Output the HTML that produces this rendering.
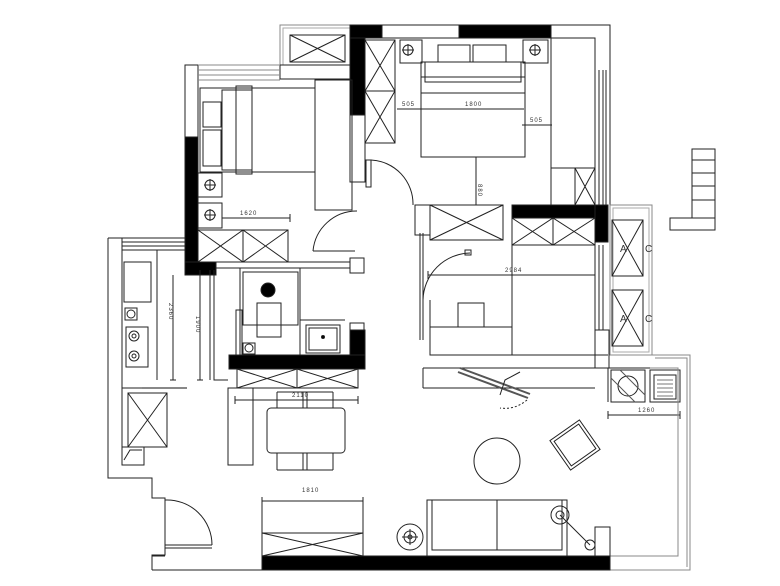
<!DOCTYPE html>
<html><head><style>
html,body{margin:0;padding:0;background:#fff;width:780px;height:586px;overflow:hidden}
svg{display:block}
text{font-family:"Liberation Sans",sans-serif;font-size:6px;fill:#333;letter-spacing:1px}
</style></head><body>
<svg width="780" height="586" viewBox="0 0 780 586" xmlns="http://www.w3.org/2000/svg">
<g fill="none" stroke="#222" stroke-width="1">
<!-- top small balcony -->
<rect x="280" y="25" width="72" height="40" stroke="#888"/>
<rect x="283" y="28" width="69" height="37" stroke="#aaa"/>
<rect x="290" y="35" width="55" height="27"/><path d="M290 35L345 62M345 35L290 62"/>
<rect x="280" y="65" width="72" height="14"/>
<!-- top black walls -->
<rect x="350" y="25" width="32" height="13" fill="#000"/>
<rect x="350" y="38" width="15" height="77" fill="#000"/>
<rect x="365" y="40" width="30" height="103"/><path d="M365 40L395 91L365 143M395 40L365 91L395 143M365 91H395"/>
<rect x="350" y="115" width="15" height="67"/>
<!-- left bedroom -->
<rect x="185" y="65" width="13" height="72"/>
<rect x="185" y="137" width="13" height="128" fill="#000"/>
<rect x="185" y="262" width="31" height="13" fill="#000"/>
<path d="M198 65H280M198 70H280M198 75H280M198 80H280" stroke="#888"/>
<rect x="200" y="88" width="115" height="84"/>
<rect x="203" y="102" width="18" height="25"/><rect x="203" y="130" width="18" height="36"/>
<rect x="222" y="90" width="30" height="80"/><rect x="236" y="86" width="16" height="88"/>
<rect x="315" y="80" width="37" height="130"/>
<rect x="198" y="173" width="24" height="24"/><circle cx="210" cy="185" r="5"/><path d="M204 185H216M210 179V191"/>
<rect x="198" y="203" width="24" height="25"/><circle cx="210" cy="215" r="5"/><path d="M204 215H216M210 209V221"/>
<path d="M222 218H290M290 214V222"/>
<rect x="198" y="230" width="90" height="32"/><path d="M198 230L243 262L288 230M198 262L243 230L288 262M243 230V262"/>
<path d="M216 262H350M216 268H350"/><rect x="350" y="258" width="14" height="15"/>
<path d="M313 251A44 44 0 0 1 357 211" />
<path d="M313 251H355"/>
<!-- right door -->
<rect x="366" y="160" width="5" height="27"/>
<path d="M371 160A44 44 0 0 1 413 205"/>
<!-- master bedroom -->
<path d="M360 25H610V70M382 38H595V70M595 70V210M599 70V210M603 70V210M606 70V210M610 70V210" />
<rect x="459" y="25" width="92" height="13" fill="#000"/>
<rect x="400" y="40" width="22" height="23"/><circle cx="408" cy="50" r="5"/><path d="M402 50H414M408 44V56"/>
<rect x="523" y="40" width="25" height="23"/><circle cx="535" cy="50" r="5"/><path d="M529 50H541M535 44V56"/>
<rect x="421" y="62" width="104" height="95"/>
<rect x="438" y="45" width="32" height="17"/><rect x="473" y="45" width="33" height="17"/>
<rect x="425" y="62" width="96" height="20"/><rect x="421" y="77" width="104" height="16"/>
<path d="M397 109H524M522 125H552M476 157V205"/>
<path d="M551 38V205"/>
<rect x="551" y="168" width="44" height="37"/><rect x="575" y="168" width="20" height="37"/><path d="M575 168L595 205M595 168L575 205"/>
<rect x="512" y="205" width="96" height="13" fill="#000"/>
<rect x="595" y="205" width="13" height="37" fill="#000"/>
<rect x="430" y="205" width="73" height="35"/><path d="M430 205L503 240M503 205L430 240"/>
<rect x="512" y="218" width="83" height="27"/><path d="M512 218L553 245L595 218M512 245L553 218L595 245M553 218V245"/>
<rect x="415" y="205" width="15" height="30"/>
<path d="M428 275H595M428 271V279M595 271V279"/>
<path d="M420 233V340M423 233V340"/>
<path d="M423 300A48 48 0 0 1 470 253"/><rect x="465" y="250" width="6" height="5"/>
<!-- AC balcony -->
<rect x="610" y="205" width="42" height="150" stroke="#888"/>
<rect x="613" y="208" width="36" height="144" stroke="#aaa"/>
<rect x="612" y="220" width="31" height="56"/><path d="M612 220L643 276M643 220L612 276"/>
<rect x="612" y="290" width="31" height="56"/><path d="M612 290L643 346M643 290L612 346"/>
<path d="M595 245V330M599 245V330M603 245V330"/>
<rect x="595" y="330" width="14" height="38"/>
<!-- stairs -->
<rect x="692" y="149" width="23" height="69"/><path d="M692 160H715M692 173H715M692 186H715M692 200H715"/>
<rect x="670" y="218" width="45" height="12"/>
<!-- bedroom 2 lower -->
<rect x="430" y="327" width="82" height="28"/><path d="M512 245V355M430 300V355"/>
<rect x="458" y="303" width="26" height="24"/>
<path d="M423 368H650M423 388H595M423 368V388M595 355H608"/>
<path d="M430 355H595V368"/>
<path d="M458 372L528 398M460 368L530 394" stroke="#555" stroke-width="2"/>
<path d="M520 372L505 380L500 395" />
<path d="M527 400Q515 410 500 408" stroke-dasharray="2 2"/>
<!-- washer & sink -->
<rect x="611" y="370" width="34" height="32"/><circle cx="628" cy="386" r="10"/>
<path d="M611 378L635 402M620 370L645 395" stroke="#555"/>
<rect x="650" y="370" width="30" height="32"/><rect x="654" y="375" width="22" height="24"/>
<path d="M657 380H673M657 384H673M657 388H673M657 392H673M657 396H673" stroke="#777"/>
<path d="M608 415H680M608 411V419M680 411V419"/>
<!-- right living walls -->
<path d="M652 355H690V570H610M655 358H687V567M650 368H678V556H610" stroke="#888"/>
<path d="M608 368V402"/>
<!-- living furniture -->
<circle cx="497" cy="461" r="23"/>
<g transform="rotate(-35 575 445)"><rect x="557" y="427" width="36" height="36"/><rect x="560" y="430" width="30" height="30"/></g>
<rect x="427" y="500" width="140" height="56"/><rect x="432" y="500" width="130" height="50"/><path d="M497 500V550"/>
<circle cx="560" cy="515" r="9"/><circle cx="560" cy="515" r="4"/><path d="M560 515L590 545"/><circle cx="590" cy="545" r="5"/>
<rect x="595" y="527" width="15" height="29"/>
<circle cx="410" cy="537" r="13"/><circle cx="410" cy="537" r="6"/><circle cx="410" cy="537" r="2"/><path d="M402 537H418M410 529V545"/>
<!-- bottom wall -->
<rect x="262" y="556" width="348" height="14" fill="#000"/>
<path d="M152 570H262M152 556H165"/>
<rect x="262" y="533" width="101" height="23"/><path d="M262 533L363 556M363 533L262 556"/>
<path d="M262 501H363M262 497V505M363 497V505M262 501V533M363 501V533"/>
<!-- kitchen -->
<path d="M108 238V478H152V498H165V555H152V570" />
<path d="M122 238V447M108 238H185M122 242H185M122 246H185M122 250H185" />
<path d="M122 250V388H167M157 250V380M122 388V395"/>
<rect x="124" y="262" width="27" height="40"/>
<rect x="125" y="308" width="12" height="12"/><circle cx="131" cy="314" r="4"/>
<rect x="126" y="327" width="22" height="40"/><circle cx="134" cy="336" r="5"/><circle cx="134" cy="356" r="5"/><circle cx="134" cy="336" r="2"/><circle cx="134" cy="356" r="2"/>
<path d="M173 275V380M170 380H176M200 270V380M197 380H203" />
<path d="M142 388H187" stroke="#888" stroke-width="2"/>
<rect x="128" y="393" width="39" height="54"/><path d="M128 393L167 447M167 393L128 447"/>
<rect x="122" y="447" width="22" height="18"/><path d="M124 460L130 450H142"/>
<path d="M165 500A45 45 0 0 1 212 545M165 545H212M165 548H212"/>
<path d="M210 270V380M214 270V380H228"/>
<rect x="228" y="388" width="25" height="77"/>
<!-- bathroom -->
<rect x="240" y="268" width="60" height="87"/><rect x="243" y="272" width="55" height="53"/>
<circle cx="268" cy="290" r="7" fill="#000"/>
<rect x="257" y="303" width="24" height="34"/>
<path d="M300 268V320H345"/><rect x="236" y="310" width="6" height="45"/>
<rect x="306" y="325" width="34" height="28"/><rect x="309" y="328" width="28" height="22"/><circle cx="323" cy="337" r="1.5" fill="#000"/>
<rect x="243" y="343" width="12" height="11"/><circle cx="249" cy="348" r="4"/>
<rect x="350" y="323" width="14" height="8"/>
<rect x="350" y="330" width="15" height="39" fill="#000"/>
<rect x="229" y="355" width="136" height="14" fill="#000"/>
<rect x="237" y="369" width="121" height="19"/><path d="M237 369L297 388L358 369M237 388L297 369L358 388M297 369V388" />
<path d="M235 400H358M235 396V404M358 396V404"/>
<rect x="267" y="408" width="78" height="45" rx="4"/>
<path d="M277 392V408M303 392V408M307 392V408M333 392V408M277 392H333M277 470V453M303 470V453M307 470V453M333 470V453M277 470H333"/>
</g>
<g>
<text x="240" y="215">1620</text>
<text x="402" y="106">505</text>
<text x="465" y="106">1800</text>
<text x="530" y="122">505</text>
<text x="478" y="184" transform="rotate(90 478 184)">880</text>
<text x="505" y="272">2984</text>
<text x="620" y="252" style="font-size:10px;letter-spacing:0">A</text>
<text x="645" y="252" style="font-size:10px;letter-spacing:0">C</text>
<text x="620" y="322" style="font-size:10px;letter-spacing:0">A</text>
<text x="645" y="322" style="font-size:10px;letter-spacing:0">C</text>
<text x="638" y="412">1260</text>
<text x="292" y="397">2110</text>
<text x="302" y="492">1810</text>
<text x="169" y="303" transform="rotate(90 169 303)">2360</text>
<text x="196" y="316" transform="rotate(90 196 316)">1900</text>
</g>
</svg>
</body></html>
